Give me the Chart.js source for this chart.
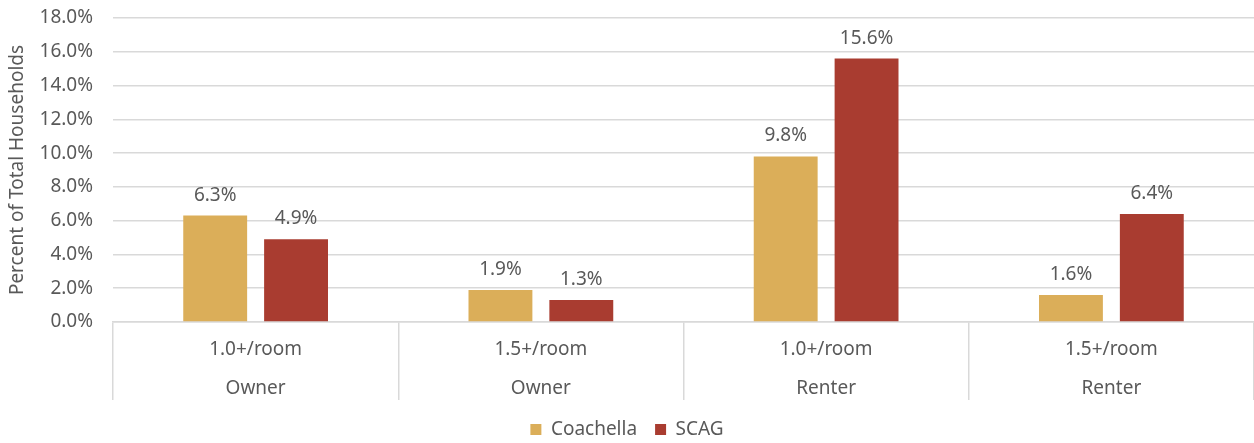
<!DOCTYPE html>
<html>
<head>
<meta charset="utf-8">
<script src="https://cdn.jsdelivr.net/npm/chart.js@4.4.0/dist/chart.umd.min.js"></script>
<style>
  html, body { margin: 0; padding: 0; background: #fff; }
  #wrap { width: 1254px; height: 443px; }
</style>
</head>
<body>
<div id="wrap"><canvas id="myChart"></canvas></div>
<script>
const crowding = ['1.0+/room', '1.5+/room', '1.0+/room', '1.5+/room'];
const tenure = ['Owner', 'Owner', 'Renter', 'Renter'];
const coachella = [6.3, 1.9, 9.8, 1.6];
const scag = [4.9, 1.3, 15.6, 6.4];
const yTicks = [0, 2, 4, 6, 8, 10, 12, 14, 16, 18];

const textColor = '#595959';
const fontFamily = '"Noto Sans", "Liberation Sans", sans-serif';

// value labels above each bar
const barLabels = {
  id: 'barLabels',
  afterDatasetsDraw(chart) {
    const c = chart.ctx;
    c.save();
    c.font = '19px ' + fontFamily;
    c.fillStyle = textColor;
    c.textAlign = 'center';
    c.textBaseline = 'alphabetic';
    chart.data.datasets.forEach((ds, i) => {
      chart.getDatasetMeta(i).data.forEach((bar, j) => {
        c.fillText(ds.data[j].toFixed(1) + '%', bar.x, bar.y - 15);
      });
    });
    c.restore();
  }
};

const labels = crowding.map((c, i) => [c, tenure[i]]);

const ctx = document.getElementById('myChart').getContext('2d');
new Chart(ctx, {
  type: 'bar',
  data: {
    labels: labels,
    datasets: [
      { label: 'Coachella', data: coachella, backgroundColor: '#DBAE59' },
      { label: 'SCAG', data: scag, backgroundColor: '#A93C30' }
    ]
  },
  options: {
    responsive: true,
    maintainAspectRatio: false,
    animation: false,
    layout: { padding: 0 },
    datasets: { bar: { categoryPercentage: 0.567, barPercentage: 0.79 } },
    plugins: {
      legend: {
        position: 'bottom',
        maxHeight: 41,
        labels: {
          boxWidth: 11, boxHeight: 11, padding: 18,
          color: textColor,
          font: { family: fontFamily, size: 19 }
        }
      },
      tooltip: { enabled: false }
    },
    scales: {
      x: {
        afterFit(axis) { axis.height = 80; },
        grid: {
          offset: true,
          drawOnChartArea: false,
          drawTicks: true,
          tickLength: 78,
          color: '#d9d9d9',
          lineWidth: 1.5
        },
        border: { display: true, color: '#d9d9d9', width: 1.5 },
        ticks: {
          color: textColor,
          font: { family: fontFamily, size: 19, lineHeight: 2.05 },
          padding: -70,
          autoSkip: false,
          maxRotation: 0
        }
      },
      y: {
        min: 0,
        max: 18,
        afterBuildTicks(axis) { axis.ticks = yTicks.map(v => ({ value: v })); },
        afterFit(axis) {
          axis.width = 113;
          axis.paddingTop = 18;
          axis.paddingBottom = 10;
        },
        grid: { color: '#d9d9d9', lineWidth: 1.5, drawTicks: false },
        border: { display: false },
        ticks: {
          color: textColor,
          padding: 20,
          font: { family: fontFamily, size: 19 },
          callback: v => v.toFixed(1) + '%'
        },
        title: {
          display: true,
          text: 'Percent of Total Households',
          color: textColor,
          font: { family: fontFamily, size: 19 },
          padding: { top: 6, bottom: 0 }
        }
      }
    }
  },
  plugins: [barLabels]
});
</script>
</body>
</html>
